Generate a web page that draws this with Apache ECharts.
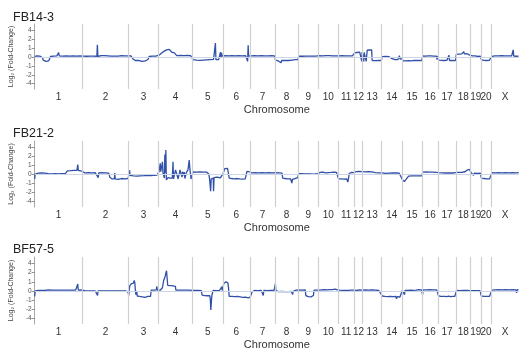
<!DOCTYPE html>
<html>
<head>
<meta charset="utf-8">
<script src="https://cdn.jsdelivr.net/npm/echarts@6/dist/echarts.min.js"></script>
<style>
html,body{margin:0;padding:0;background:#fff;}
#chart{width:519px;height:353px;}
</style>
</head>
<body>
<div id="chart"></div>
<script>
// Chromosome names and approximate lengths (Mb)
const chromNames = ['1','2','3','4','5','6','7','8','9','10','11','12','13','14','15','16','17','18','19','20','X'];
const chromLengths = [280,271,176,200,177,159,148,136,118,116,95,49,112,118,120,93,104,87,60,62,162];
const sampleNames = ['FB14-3','FB21-2','BF57-5'];
// y tick positions on the compressed axis and their labels (log2 fold change)
const yTickPos = [3,2,1,0,-1,-2,-3];
const yTickLabels = ['4','2','1','0','-1','-2','-4'];

// [genome position (Mb), log2 fold change]
const fb14_3 = [
[0,0.05],[4,0.2],[12,0.12],[20,0.18],[30,0.1],[40,0.15],[46,-0.1],[50,-0.35],[58,-0.45],[66,-0.5],[74,-0.55],[82,-0.45],[88,-0.3],[93,0.05],[100,0.15],[110,0.1],[120,0.18],[130,0.12],[138,0.15],[141,0.5],[144,0.12],[155,0.18],[165,0.1],[175,0.16],[185,0.12],[195,0.18],[205,0.1],[215,0.15],[225,0.12],[235,0.18],[245,0.1],[255,0.15],[265,0.12],[275,0.16],
[285,0.1],[295,0.15],[305,0.08],[315,0.14],[325,0.1],[335,0.16],[345,0.1],[355,0.12],[365,0.08],[368,1.3],[371,0.05],[380,0.12],[390,0.15],[400,0.1],[410,0.14],[420,0.08],[430,0.12],[440,0.16],[450,0.1],[460,0.13],[470,0.09],[480,0.14],[490,0.1],[500,0.12],[510,0.15],[520,0.1],[530,0.13],[540,0.08],[548,0.12],
[555,0.1],[565,0.12],[572,0.08],[576,-0.2],[582,-0.35],[590,-0.4],[600,-0.48],[610,-0.38],[620,-0.45],[630,-0.5],[640,-0.4],[650,-0.45],[660,-0.35],[666,-0.25],[672,0.05],[680,0.12],[690,0.1],[700,0.15],[710,0.1],[720,0.12],
[730,0.2],[737,0.28],[745,0.45],[752,0.55],[760,0.65],[768,0.7],[775,0.8],[782,0.75],[790,0.85],[797,0.7],[804,0.55],[812,0.5],[820,0.45],[828,0.3],[834,0.15],[845,0.12],[855,0.18],[865,0.1],[875,0.15],[885,0.12],[895,0.16],[905,0.1],[915,0.14],[923,0.1],
[930,-0.3],[940,-0.4],[950,-0.35],[960,-0.45],[970,-0.38],[980,-0.42],[990,-0.35],[1000,-0.4],[1010,-0.32],[1020,-0.38],[1030,-0.3],[1040,-0.35],[1050,-0.28],[1058,-0.3],[1061,1.47],[1064,-0.3],[1072,-0.25],[1080,-0.3],[1087,-0.2],[1091,0.55],[1094,-0.1],[1097,0.45],[1100,0.1],
[1108,0.1],[1118,0.14],[1128,0.08],[1138,0.12],[1148,0.1],[1158,0.15],[1168,0.08],[1178,0.12],[1188,0.1],[1198,0.14],[1208,0.09],[1218,0.12],[1228,0.1],[1238,0.15],[1246,0.1],[1250,-0.5],[1253,1.23],[1256,0.1],[1260,0.15],
[1270,0.12],[1280,0.08],[1290,0.14],[1300,0.1],[1310,0.12],[1320,0.08],[1330,0.14],[1340,0.1],[1350,0.13],[1360,0.09],[1370,0.12],[1380,0.1],[1390,0.14],[1400,0.08],[1408,0.12],
[1414,-0.35],[1422,-0.4],[1430,-0.45],[1438,-0.38],[1446,-0.65],[1450,-0.4],[1460,-0.42],[1470,-0.38],[1480,-0.45],[1490,-0.4],[1500,-0.42],[1510,-0.35],[1520,-0.38],[1530,-0.3],[1540,-0.28],[1545,-0.3],
[1550,0.1],[1560,0.12],[1570,0.08],[1580,0.14],[1590,0.1],[1600,0.12],[1610,0.09],[1620,0.13],[1630,0.1],[1640,0.14],[1650,0.1],[1660,0.12],
[1670,0.14],[1680,0.18],[1690,0.12],[1700,0.16],[1710,0.14],[1720,0.2],[1730,0.14],[1740,0.16],[1750,0.12],[1760,0.15],[1770,0.13],[1778,0.15],
[1785,0.12],[1795,0.1],[1805,0.14],[1815,0.1],[1825,0.12],[1835,0.08],[1845,0.12],[1855,0.1],[1865,0.13],[1872,0.1],
[1878,0.45],[1885,0.55],[1892,0.5],[1900,0.6],[1908,0.55],[1914,0.5],[1918,0.55],[1920,-0.5],[1922,0.55],
[1928,0.55],[1932,-0.5],[1934,0.5],[1940,0.55],[1944,0.5],[1946,-0.5],[1950,-0.45],[1952,0.75],[1958,0.8],[1965,0.78],[1972,0.85],[1978,0.8],[1981,-0.4],[1990,-0.38],[2000,-0.42],[2010,-0.38],[2020,-0.4],[2030,-0.36],[2035,-0.4],
[2040,0.02],[2050,0.0],[2060,0.05],[2070,0.0],[2080,0.03],[2090,-0.05],[2098,-0.2],[2105,-0.28],[2115,-0.3],[2125,-0.25],[2132,-0.3],[2138,-0.25],[2141,0.15],[2145,-0.25],[2152,-0.3],
[2158,-0.2],[2162,-0.45],[2170,-0.35],[2178,-0.45],[2186,-0.38],[2194,-0.42],[2202,-0.35],[2210,-0.45],[2218,-0.4],[2226,-0.38],[2234,-0.44],[2242,-0.4],[2250,-0.42],[2258,-0.38],[2266,-0.4],[2272,-0.42],
[2278,0.12],[2286,0.16],[2294,0.1],[2302,0.15],[2310,0.12],[2318,0.18],[2326,0.12],[2334,0.15],[2342,0.1],[2350,0.14],[2358,0.1],[2362,-0.3],[2365,0.1],
[2372,-0.35],[2380,-0.42],[2388,-0.38],[2396,-0.45],[2404,-0.4],[2412,-0.44],[2420,-0.38],[2428,-0.42],[2432,0.2],[2435,-0.4],[2445,-0.42],[2455,-0.38],[2465,-0.4],[2470,-0.42],
[2475,0.3],[2483,0.35],[2491,0.32],[2499,0.38],[2507,0.34],[2515,0.38],[2519,0.6],[2522,0.35],[2530,0.32],[2538,0.36],[2546,0.3],[2554,0.2],[2557,0.1],
[2562,0.1],[2570,0.12],[2578,0.08],[2586,0.12],[2594,0.1],[2602,0.05],[2610,0.1],[2616,0.08],
[2622,-0.3],[2628,-0.42],[2636,-0.38],[2644,-0.45],[2652,-0.4],[2660,-0.42],[2668,-0.38],[2676,-0.4],
[2684,0.05],[2692,0.1],[2700,0.12],[2710,0.08],[2720,0.12],[2730,0.1],[2740,0.14],[2750,0.08],[2760,0.12],[2770,0.1],[2780,0.13],[2790,0.09],[2800,0.12],[2806,0.1],[2809,0.8],[2812,0.1],[2820,0.12],[2830,0.08],[2840,0.1]
];

const fb21_2 = [
[0,-0.5],[3,0.05],[10,0.12],[20,0.15],[30,0.1],[40,0.18],[50,0.12],[60,0.15],[70,0.1],[80,0.08],[90,0.12],[100,0.05],[110,0.1],[120,0.08],[130,0.12],[140,0.05],[150,0.1],[160,0.08],[170,0.12],[180,0.1],[188,0.15],[192,0.4],[200,0.45],[210,0.42],[220,0.48],[230,0.45],[240,0.5],[248,0.45],[253,1.07],[256,0.45],[265,0.4],[275,0.38],
[285,0.22],[295,0.18],[305,0.25],[315,0.2],[325,0.22],[335,0.18],[345,0.24],[355,0.2],[365,0.22],[373,-0.35],[376,0.18],[385,0.22],[395,0.2],[405,0.24],[415,0.18],[425,0.2],[435,0.15],[441,-0.3],[446,-0.45],[455,-0.5],[462,-0.45],[468,-0.5],[470,0.15],[473,-0.5],[480,-0.48],[490,-0.55],[500,-0.5],[510,-0.45],[520,-0.52],[530,-0.48],[540,-0.5],[548,-0.45],
[553,-0.1],[557,0.45],[560,-0.1],[570,-0.12],[580,-0.15],[590,-0.1],[600,-0.18],[610,-0.12],[620,-0.15],[630,-0.1],[640,-0.14],[650,-0.08],[660,-0.12],[670,-0.1],[680,-0.14],[690,-0.08],[700,-0.1],[710,-0.05],[718,-0.08],[724,0.0],
[730,0.3],[734,0.25],[737,1.17],[740,0.3],[745,0.2],[750,1.32],[753,0.2],[757,0.35],[761,-0.4],[764,2.3],[767,0.2],[770,3.25],[773,-0.6],[778,-0.45],[783,-0.35],[788,-0.45],[795,-0.4],[802,-0.48],[808,-0.4],[812,1.32],[815,-0.5],[818,-0.6],[822,-0.45],[827,0.5],[832,0.35],[837,0.3],[842,-0.5],[847,-0.6],[850,0.2],[853,0.5],[857,0.35],[860,0.3],[865,-0.3],[868,0.3],[872,-0.1],[878,0.25],[882,-0.45],[886,-0.4],[890,0.2],[895,0.3],[900,0.5],[904,0.7],[907,1.5],[911,0.65],[915,0.7],[918,-0.5],[922,-0.6],[925,-0.55],
[930,0.28],[940,0.32],[950,0.25],[960,0.3],[970,0.28],[980,0.32],[990,0.26],[1000,0.3],[1010,0.25],[1018,0.2],[1022,0.05],[1026,-0.4],[1030,-0.5],[1033,-1.8],[1036,-0.5],[1040,-0.4],[1044,-0.45],[1048,-0.4],[1050,-1.8],[1053,-0.35],[1060,-0.38],[1070,-0.3],[1080,-0.35],[1090,-0.38],[1100,-0.32],
[1106,0.1],[1112,0.3],[1116,0.65],[1120,0.75],[1126,0.72],[1132,0.68],[1138,0.5],[1142,-0.4],[1148,-0.5],[1156,-0.45],[1164,-0.55],[1172,-0.48],[1180,-0.52],[1188,-0.45],[1196,-0.55],[1204,-0.5],[1212,-0.45],[1220,-0.52],[1228,-0.48],[1236,-0.5],[1242,-0.4],[1246,0.35],[1252,0.25],[1258,0.3],
[1266,0.22],[1275,0.18],[1285,0.24],[1295,0.2],[1305,0.22],[1315,0.18],[1325,0.25],[1335,0.2],[1345,0.22],[1355,0.18],[1365,0.24],[1375,0.2],[1385,0.22],[1395,0.18],[1405,0.22],
[1415,0.2],[1425,0.22],[1435,0.18],[1445,0.2],[1452,0.15],[1456,-0.4],[1462,-0.5],[1470,-0.45],[1478,-0.52],[1486,-0.48],[1494,-0.55],[1502,-0.5],[1508,-0.6],[1510,-0.95],[1513,-0.55],[1520,-0.5],[1528,-0.45],[1536,-0.4],[1544,-0.35],
[1550,0.1],[1558,0.05],[1566,0.08],[1574,0.02],[1582,0.06],[1590,0.0],[1598,0.05],[1606,0.02],[1614,0.06],[1622,0.0],[1630,0.04],[1638,0.02],[1646,0.06],[1654,0.05],[1662,0.1],
[1668,0.18],[1676,0.22],[1684,0.15],[1692,0.25],[1700,0.2],[1708,0.18],[1716,0.24],[1724,0.2],[1732,0.16],[1740,0.22],[1748,0.2],[1756,0.25],[1764,0.18],[1772,0.22],[1778,0.2],
[1784,-0.5],[1792,-0.55],[1800,-0.5],[1808,-0.58],[1816,-0.52],[1824,-0.55],[1832,-0.5],[1838,-0.85],[1842,-0.5],[1846,0.1],[1850,0.2],[1858,0.22],[1866,0.18],[1873,0.2],
[1880,0.35],[1888,0.32],[1896,0.38],[1904,0.34],[1912,0.36],[1920,0.32],
[1930,0.3],[1940,0.28],[1950,0.32],[1960,0.3],[1970,0.26],[1980,0.28],[1990,0.24],[2000,0.2],[2010,0.22],[2020,0.18],[2030,0.2],
[2040,0.18],[2050,0.15],[2060,0.12],[2070,0.18],[2080,0.14],[2090,0.1],[2100,0.16],[2110,0.12],[2120,0.18],[2130,0.1],[2140,0.14],[2150,0.1],
[2158,-0.55],[2164,-0.65],[2170,-0.8],[2174,-0.6],[2180,-0.55],[2186,-0.6],[2190,-0.4],[2195,-0.18],[2205,-0.12],[2215,-0.15],[2225,-0.1],[2235,-0.15],[2245,-0.12],[2255,-0.16],[2265,-0.12],[2272,-0.15],
[2278,0.25],[2288,0.22],[2298,0.28],[2308,0.24],[2318,0.26],[2328,0.22],[2338,0.25],[2348,0.2],[2358,0.24],[2365,0.22],
[2372,0.2],[2382,0.22],[2392,0.18],[2402,0.2],[2412,0.16],[2422,0.22],[2432,0.18],[2442,0.2],[2452,0.16],[2462,0.22],[2470,0.2],
[2476,0.2],[2486,0.22],[2496,0.18],[2506,0.22],[2516,0.25],[2526,0.3],[2534,0.35],[2540,0.5],[2546,0.6],[2552,0.55],[2556,0.45],
[2562,0.2],[2570,0.15],[2576,-0.1],[2580,0.15],[2590,0.2],[2600,0.12],[2610,0.18],[2616,0.15],
[2622,-0.4],[2630,-0.5],[2638,-0.45],[2646,-0.52],[2654,-0.48],[2662,-0.55],[2670,-0.5],[2678,-0.45],
[2684,0.2],[2694,0.22],[2704,0.18],[2714,0.22],[2724,0.2],[2734,0.25],[2744,0.18],[2754,0.22],[2764,0.2],[2774,0.24],[2784,0.18],[2794,0.22],[2804,0.2],[2814,0.24],[2824,0.18],[2834,0.22],[2842,0.2]
];

const bf57_5 = [
[0,-0.6],[3,0.0],[10,0.08],[20,0.05],[30,0.1],[40,0.06],[50,0.1],[60,0.05],[70,0.08],[80,0.12],[90,0.06],[100,0.1],[110,0.05],[120,0.08],[130,0.04],[140,0.08],[150,0.05],[160,0.1],[170,0.06],[180,0.08],[190,0.04],[200,0.08],[210,0.05],[220,0.1],[230,0.06],[240,0.08],[248,0.1],[253,0.75],[256,0.1],[265,0.08],[275,0.12],
[285,0.08],[295,0.04],[305,0.06],[315,0.02],[325,0.05],[335,0.0],[345,0.04],[355,0.02],[365,0.0],[369,-0.5],[372,0.02],[382,0.05],[392,0.0],[402,0.04],[412,0.02],[422,0.06],[432,0.0],[442,0.04],[452,0.02],[462,0.05],[472,0.0],[482,0.04],[492,0.02],[502,0.05],[512,0.0],[522,0.04],[532,0.02],[542,0.0],[548,-0.1],
[552,-0.5],[555,0.1],[558,0.55],[563,0.65],[568,0.8],[574,0.9],[580,0.85],[584,1.1],[588,0.9],[591,0.05],[594,-0.4],[597,-0.5],[599,0.0],[602,-0.55],[608,-0.65],[616,-0.6],[624,-0.7],[632,-0.65],[640,-0.62],[648,-0.7],[656,-0.65],[664,-0.6],[672,-0.68],[680,-0.6],[684,0.1],[692,0.12],[700,0.08],[708,0.1],[714,0.12],[717,0.5],[720,0.1],[725,0.08],
[730,0.05],[738,0.1],[745,0.3],[750,0.35],[754,0.4],[757,1.1],[762,1.25],[766,1.5],[770,1.9],[774,2.3],[777,2.5],[779,2.0],[781,0.6],[788,0.55],[796,0.58],[804,0.5],[812,0.55],[820,0.52],[826,0.5],[829,0.08],[836,0.05],[846,0.08],[856,0.04],[866,0.08],[876,0.05],[886,0.1],[896,0.06],[906,0.08],[916,0.05],[924,0.06],
[930,0.08],[940,0.05],[950,0.1],[960,0.06],[970,0.08],[978,0.04],[983,-0.45],[990,-0.55],[998,-0.5],[1006,-0.58],[1014,-0.52],[1022,-0.55],[1028,-0.5],[1031,-0.9],[1034,-2.1],[1037,-1.2],[1040,-0.5],[1044,-0.45],[1047,0.05],[1055,0.08],[1065,0.04],[1075,0.08],[1085,0.05],[1093,0.08],[1098,0.45],[1101,0.05],
[1106,0.1],[1110,0.8],[1116,0.95],[1122,1.0],[1128,0.92],[1134,0.88],[1138,0.3],[1142,-0.6],[1150,-0.65],[1158,-0.6],[1166,-0.7],[1174,-0.62],[1182,-0.68],[1190,-0.6],[1198,-0.72],[1206,-0.65],[1214,-0.6],[1222,-0.7],[1230,-0.62],[1238,-0.68],[1246,-0.6],[1254,-0.75],[1260,-0.62],[1266,-0.65],[1272,-0.6],[1276,-0.1],[1280,0.05],
[1290,0.05],[1300,0.08],[1310,0.04],[1320,0.08],[1330,0.05],[1338,0.1],[1342,-0.5],[1345,0.05],[1355,0.08],[1365,0.04],[1375,0.1],[1385,0.06],[1395,0.08],[1405,0.05],
[1413,0.8],[1416,0.05],[1422,-0.05],[1430,-0.08],[1440,-0.1],[1450,-0.06],[1460,-0.1],[1470,-0.08],[1480,-0.12],[1490,-0.08],[1500,-0.1],[1508,-0.06],[1514,-0.4],[1517,-0.05],[1525,0.05],[1535,0.08],[1544,0.05],
[1550,0.12],[1560,0.15],[1570,0.1],[1580,0.15],[1588,0.12],[1592,-0.5],[1598,-0.6],[1606,-0.62],[1614,-0.58],[1622,-0.65],[1630,-0.6],[1636,-0.5],[1640,0.08],[1648,0.12],[1656,0.1],[1662,0.12],
[1668,0.1],[1676,0.15],[1684,0.12],[1692,0.18],[1700,0.14],[1708,0.16],[1716,0.12],[1724,0.2],[1732,0.15],[1740,0.18],[1748,0.14],[1756,0.16],[1764,0.2],[1772,0.15],[1778,0.12],
[1784,0.05],[1792,0.08],[1800,0.02],[1808,0.06],[1816,0.0],[1824,0.05],[1832,0.02],[1840,0.06],[1848,0.04],[1856,0.1],[1864,0.05],[1872,0.08],
[1880,0.1],[1888,0.05],[1894,0.25],[1898,0.08],[1906,0.12],[1914,0.06],[1922,0.1],
[1930,0.08],[1940,0.12],[1950,0.06],[1960,0.1],[1970,0.08],[1980,0.12],[1990,0.06],[2000,0.1],[2010,0.08],[2020,0.05],[2030,0.08],
[2040,-0.55],[2048,-0.65],[2056,-0.6],[2064,-0.68],[2072,-0.62],[2080,-0.66],[2088,-0.6],[2096,-0.7],[2104,-0.62],[2112,-0.65],[2120,-0.6],[2124,-0.85],[2128,-0.62],[2136,-0.6],[2144,-0.66],[2152,-0.6],
[2158,0.05],[2164,0.1],[2168,0.05],[2171,-0.4],[2174,0.05],[2182,0.1],[2190,0.06],[2198,0.12],[2206,0.08],[2214,0.1],[2222,0.06],[2230,0.12],[2238,0.08],[2246,0.1],[2254,0.14],[2262,0.1],[2270,0.12],
[2277,-0.4],[2280,0.12],[2290,0.15],[2300,0.12],[2310,0.18],[2320,0.14],[2330,0.16],[2340,0.12],[2350,0.15],[2360,0.12],[2365,0.1],
[2370,-0.5],[2376,-0.65],[2382,-0.6],[2388,-0.72],[2394,-0.58],[2400,-0.66],[2406,-0.6],[2412,-0.75],[2418,-0.62],[2424,-0.68],[2430,-0.55],[2436,-0.7],[2442,-0.62],[2448,-0.78],[2454,-0.6],[2460,-0.66],[2466,-0.6],
[2476,0.05],[2486,0.08],[2496,0.04],[2506,0.08],[2516,0.05],[2526,0.1],[2536,0.05],[2546,0.08],[2556,0.04],
[2564,0.06],[2574,0.04],[2584,0.08],[2594,0.04],[2604,0.06],[2614,0.04],
[2622,-0.55],[2630,-0.62],[2638,-0.58],[2646,-0.65],[2654,-0.6],[2662,-0.62],[2670,-0.58],[2678,-0.6],
[2684,0.1],[2694,0.15],[2704,0.12],[2714,0.18],[2724,0.14],[2734,0.16],[2744,0.12],[2754,0.18],[2764,0.14],[2774,0.16],[2784,0.12],[2794,0.18],[2804,0.14],[2814,0.16],[2824,0.12],[2829,-0.2],[2832,0.15],[2840,0.12]
];

const panels = [fb14_3, fb21_2, bf57_5];

// chromosome boundaries and centres derived from lengths
const bounds = [0];
chromLengths.forEach(l => bounds.push(bounds[bounds.length - 1] + l));
const genomeEnd = bounds[bounds.length - 1];
const centers = chromLengths.map((l, i) => bounds[i] + l / 2);

// compressed axis: linear within [-1,1], log2 beyond
function toAxis(v) {
  const a = Math.abs(v);
  return a <= 1 ? v : Math.sign(v) * (1 + Math.log2(a));
}

const layout = [
  {top: 24, height: 65, titleTop: 6},
  {top: 141, height: 66, titleTop: 122},
  {top: 257, height: 67, titleTop: 238}
];

const FONT = '"Liberation Sans", Arial, sans-serif';
const option = {
  animation: false,
  backgroundColor: '#ffffff',
  title: layout.map((L, i) => ({
    text: sampleNames[i], left: 8, top: L.titleTop,
    textStyle: {fontSize: 12.5, fontWeight: 'normal', color: '#222', fontFamily: FONT}
  })),
  grid: layout.map(L => ({left: 29, right: 0, top: L.top, height: L.height})),
  xAxis: layout.map((L, i) => ({
    type: 'value', gridIndex: i, min: 0, max: genomeEnd,
    name: 'Chromosome', nameLocation: 'middle', nameGap: 15,
    nameTextStyle: {fontSize: 11, color: '#333', fontFamily: FONT},
    axisLine: {show: true, lineStyle: {color: '#a8a8a8', width: 1}},
    axisTick: {show: true, customValues: bounds, length: 4, lineStyle: {color: '#909090'}},
    axisLabel: {
      show: true, customValues: centers, margin: 3, fontSize: 10, color: '#333', fontFamily: FONT,
      formatter: v => {
        let best = 0;
        centers.forEach((c, k) => { if (Math.abs(c - v) < Math.abs(centers[best] - v)) best = k; });
        return chromNames[best];
      }
    },
    splitLine: {show: false}
  })),
  yAxis: layout.map((L, i) => ({
    type: 'value', gridIndex: i, min: -3.6, max: 3.7,
    name: 'Log\u2082 (Fold-Change)', nameLocation: 'middle', nameGap: 11,
    nameTextStyle: {fontSize: 7, color: '#444', fontFamily: FONT},
    axisLine: {show: true, lineStyle: {color: '#a8a8a8', width: 1}},
    axisTick: {show: true, customValues: yTickPos, length: 3, lineStyle: {color: '#909090'}},
    axisLabel: {
      show: true, customValues: yTickPos, margin: 3, fontSize: 6.5, color: '#555', fontFamily: FONT,
      formatter: v => { const k = yTickPos.indexOf(Math.round(v)); return k >= 0 ? yTickLabels[k] : ''; }
    },
    splitLine: {show: false}
  })),
  series: panels.map((d, i) => ({
    type: 'line', xAxisIndex: i, yAxisIndex: i,
    data: d.map(p => [p[0], toAxis(p[1])]),
    showSymbol: false, symbol: 'none',
    lineStyle: {color: '#3150a8', width: 1.3},
    markLine: {
      silent: true, symbol: 'none', label: {show: false},
      data: [{yAxis: 0, lineStyle: {color: '#cdd5e8', width: 1, type: 'solid'}}]
        .concat(bounds.slice(1, -1).map(b => ({xAxis: b, lineStyle: {color: '#d0d0d0', width: 1.2, type: 'solid'}})))
    },
    z: 3
  }))
};

const chart = echarts.init(document.getElementById('chart'), null, {renderer: 'canvas'});
chart.setOption(option);
</script>
</body>
</html>
